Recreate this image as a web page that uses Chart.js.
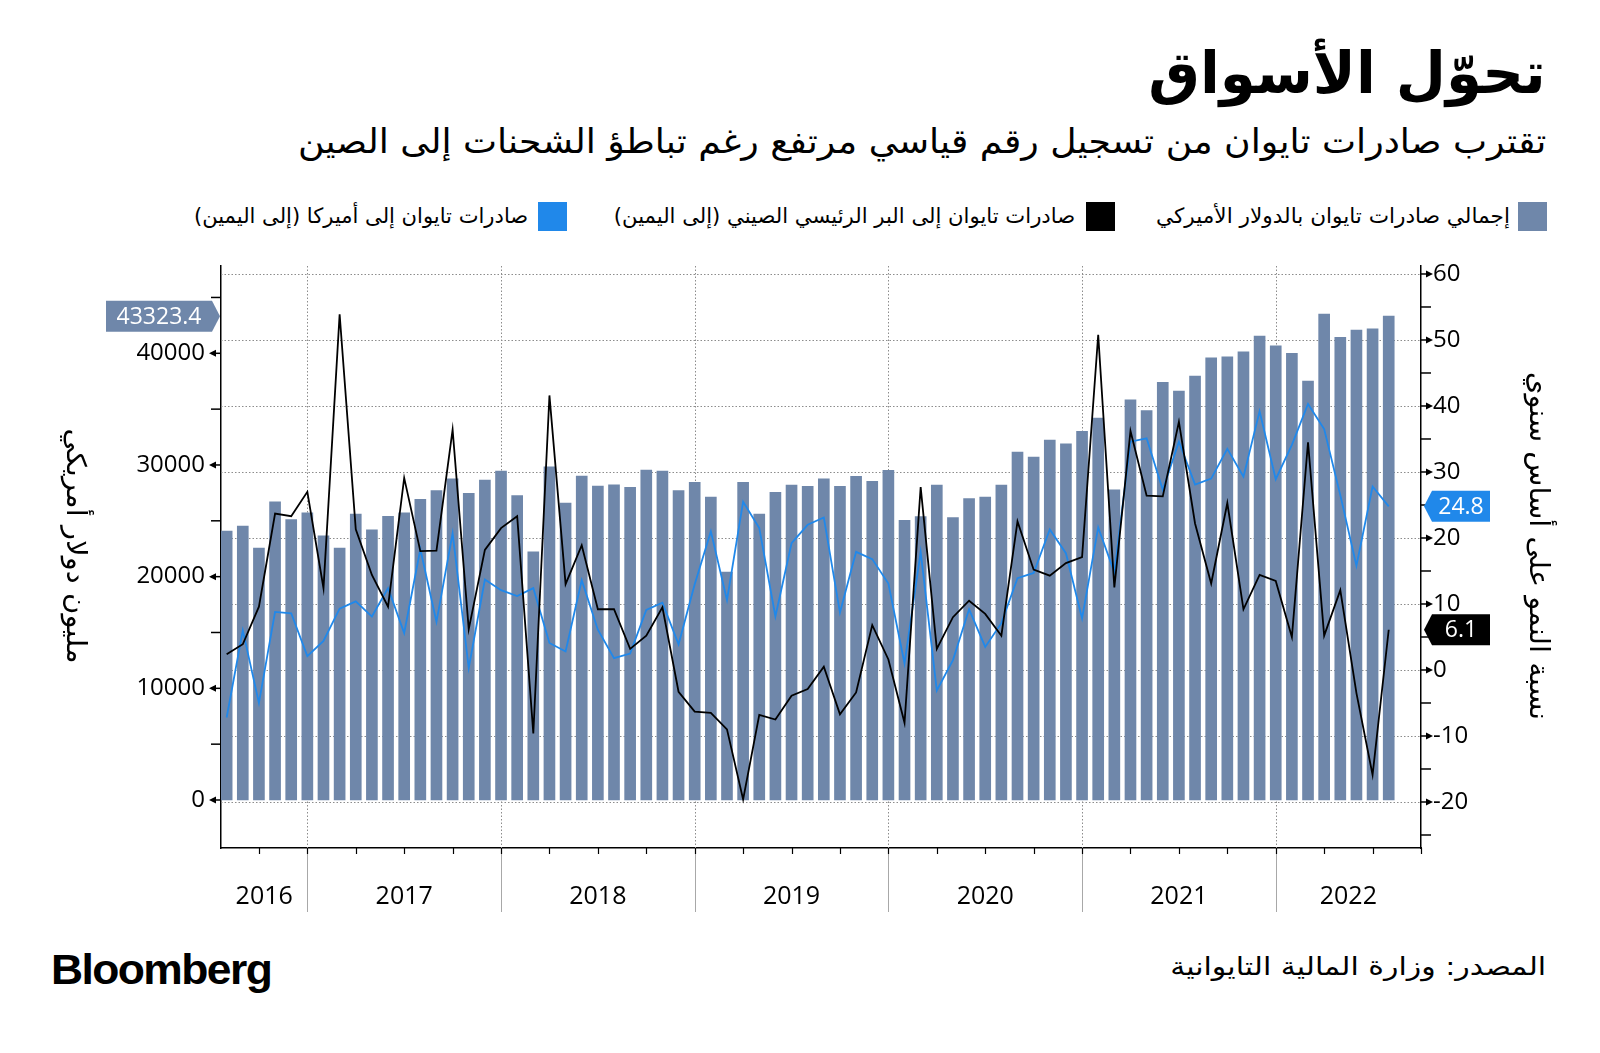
<!DOCTYPE html>
<html lang="ar">
<head>
<meta charset="utf-8">
<script src="https://cdn.jsdelivr.net/npm/chart.js@4.4.0/dist/chart.umd.min.js"></script>
<style>
  body { margin:0; width:1600px; height:1053px; background:#fff; position:relative; overflow:hidden; font-family:"DejaVu Sans", sans-serif; }
  .ar { position:absolute; direction:rtl; white-space:nowrap; color:#000; transform-origin:right center; }
  #title { right:54px; top:38px; height:70px; line-height:70px; font-size:58px; font-weight:bold; }
  #subtitle { right:54px; top:118px; height:46px; line-height:46px; font-size:34px; }
  .leg { top:202px; height:29px; line-height:29px; font-size:21px; }
  .sw { position:absolute; top:202px; width:29px; height:29px; }
  #source { right:54px; top:950px; height:34px; line-height:34px; font-size:25px; }
  #logo { position:absolute; left:51px; top:948px; height:44px; line-height:44px; font-family:"Liberation Sans", Arial, sans-serif; font-weight:bold; font-size:42px; letter-spacing:-1.5px; transform-origin:left center; }
  #wrap { position:absolute; left:0; top:250px; width:1600px; height:680px; }
</style>
</head>
<body>
<div id="title" class="ar" data-w="398">تحوّل الأسواق</div>
<div id="subtitle" class="ar" data-w="1248">تقترب صادرات تايوان من تسجيل رقم قياسي مرتفع رغم تباطؤ الشحنات إلى الصين</div>

<div class="sw" style="left:1518px; background:#6f87aa"></div>
<div class="ar leg" style="right:90px" data-w="354">إجمالي صادرات تايوان بالدولار الأميركي</div>
<div class="sw" style="left:1086px; background:#000"></div>
<div class="ar leg" style="right:525px" data-w="461">صادرات تايوان إلى البر الرئيسي الصيني (إلى اليمين)</div>
<div class="sw" style="left:538px; background:#2088ea"></div>
<div class="ar leg" style="right:1072px" data-w="334">صادرات تايوان إلى أميركا (إلى اليمين)</div>

<div id="wrap"><canvas id="chart" width="1600" height="680"></canvas></div>

<div id="logo" data-w="220">Bloomberg</div>
<div id="source" class="ar" data-w="376">المصدر: وزارة المالية التايوانية</div>

<script>
// monthly, dated at month end
const months = [
  '2016-07','2016-08','2016-09','2016-10','2016-11','2016-12',
  '2017-01','2017-02','2017-03','2017-04','2017-05','2017-06','2017-07','2017-08','2017-09','2017-10','2017-11','2017-12',
  '2018-01','2018-02','2018-03','2018-04','2018-05','2018-06','2018-07','2018-08','2018-09','2018-10','2018-11','2018-12',
  '2019-01','2019-02','2019-03','2019-04','2019-05','2019-06','2019-07','2019-08','2019-09','2019-10','2019-11','2019-12',
  '2020-01','2020-02','2020-03','2020-04','2020-05','2020-06','2020-07','2020-08','2020-09','2020-10','2020-11','2020-12',
  '2021-01','2021-02','2021-03','2021-04','2021-05','2021-06','2021-07','2021-08','2021-09','2021-10','2021-11','2021-12',
  '2022-01','2022-02','2022-03','2022-04','2022-05','2022-06','2022-07'
];

// total exports, million USD (left axis)
const totalExports = [
  24080, 24530, 22560, 26710, 25100, 25720,
  23660, 22560, 25600, 24200, 25400, 25720, 26920, 27700, 28770, 27460, 28650, 29460,
  27250, 22230, 29840, 26590, 29010, 28110, 28230, 27990, 29550, 29460, 27700, 28440,
  27130, 20410, 28440, 25600, 27550, 28200, 28080, 28770, 28080, 28980, 28530, 29520,
  25040, 25370, 28200, 25280, 26990, 27130, 28200, 31160, 30710, 32230, 31900, 33010,
  34200, 27780, 35830, 34860, 37400, 36620, 37960, 39600, 39690, 40140, 41540, 40670,
  39990, 37510, 43510, 41420, 42080, 42200, 43323.4
];

// exports to mainland China, YoY % (right axis)
const chinaGrowth = [
  2.4, 3.9, 9.6, 23.7, 23.3, 27.0,
  12.4, 53.9, 21.3, 14.4, 9.6, 29.1, 18.0, 18.1, 36.4, 6.2, 18.2, 21.5,
  23.3, -9.6, 41.6, 13.0, 18.9, 9.2, 9.2, 3.2, 5.2, 9.5, -3.3, -6.3,
  -6.5, -9.0, -19.6, -6.8, -7.5, -3.9, -2.9, 0.5, -6.7, -3.4, 6.8, 1.6,
  -8.0, 27.7, 3.2, 8.0, 10.5, 8.5, 5.2, 22.5, 15.2, 14.3, 16.2, 17.1,
  50.8, 12.5, 36.2, 26.4, 26.3, 37.6, 22.2, 13.1, 25.3, 9.2, 14.4, 13.5,
  5.0, 34.5, 5.2, 12.1, -3.5, -15.9, 6.1
];

// exports to US, YoY % (right axis)
const usGrowth = [
  -7.2, 6.0, -5.0, 8.8, 8.6, 2.1,
  4.4, 9.3, 10.4, 8.1, 12.4, 5.6, 18.3, 7.3, 20.7, 0.3, 13.7, 12.1,
  11.2, 12.4, 4.1, 2.8, 13.6, 6.1, 1.8, 2.5, 9.1, 10.2, 3.9, 13.0,
  21.0, 10.6, 25.5, 21.5, 8.1, 19.2, 22.0, 23.1, 8.7, 17.9, 16.8, 13.1,
  1.0, 17.9, -3.1, 1.5, 9.2, 3.5, 7.1, 13.9, 14.7, 21.3, 17.7, 7.8,
  21.6, 14.8, 34.6, 35.1, 27.3, 34.6, 28.1, 29.0, 33.5, 29.3, 39.2, 28.9,
  34.1, 40.3, 36.5, 26.5, 15.8, 27.8, 24.8
];

const yearLabels = ['2016', '2017', '2018', '2019', '2020', '2021', '2022'];
const leftTicks = [0, 10000, 20000, 30000, 40000];
const rightTicks = [-20, -10, 0, 10, 20, 30, 40, 50, 60];

const BAR = '#6f87aa', BLUE = '#2088ea', FONT = '"Open Sans", "Noto Sans", sans-serif';

const X_MIN = -0.35, X_MAX = 74;
const yearEnds = months.map((m, i) => m.endsWith('-12') ? i : -1).filter(i => i >= 0);
const bounds = [X_MIN, ...yearEnds, X_MAX];
const yearCenters = yearLabels.map((_, i) => (bounds[i] + bounds[i + 1]) / 2);

function tag(ctx, tipX, y, text, color, side) {
  const h = 31, w = side === 'left' ? 106 : 58, arrow = 8;
  const dir = side === 'left' ? -1 : 1;
  ctx.fillStyle = color;
  ctx.beginPath();
  ctx.moveTo(tipX, y);
  ctx.lineTo(tipX + dir * arrow, y - h / 2);
  ctx.lineTo(tipX + dir * (arrow + w), y - h / 2);
  ctx.lineTo(tipX + dir * (arrow + w), y + h / 2);
  ctx.lineTo(tipX + dir * arrow, y + h / 2);
  ctx.closePath();
  ctx.fill();
  ctx.fillStyle = '#fff';
  ctx.font = '23px ' + FONT;
  ctx.textAlign = 'center';
  ctx.textBaseline = 'middle';
  ctx.fillText(text, tipX + dir * (arrow + w / 2), y + 1);
}

function vtitle(ctx, x, y, text, len) {
  ctx.save();
  ctx.translate(x, y);
  ctx.rotate(Math.PI / 2);
  ctx.font = '27px "DejaVu Sans", sans-serif';
  ctx.direction = 'rtl';
  ctx.textAlign = 'center';
  ctx.textBaseline = 'middle';
  const k = len / ctx.measureText(text).width;
  ctx.scale(k, 1);
  ctx.fillStyle = '#000';
  ctx.fillText(text, 0, 0);
  ctx.restore();
}

const decor = {
  id: 'decor',
  beforeDatasetsDraw(chart) {
    const {ctx, chartArea: a, scales: {x, yR}} = chart;
    ctx.save();
    ctx.lineWidth = 1;
    ctx.strokeStyle = '#8c8c8c';
    ctx.setLineDash([1.5, 2]);
    rightTicks.forEach(v => {
      const y = Math.round(yR.getPixelForValue(v)) + 0.5;
      ctx.beginPath(); ctx.moveTo(a.left, y); ctx.lineTo(a.right, y); ctx.stroke();
    });
    yearEnds.forEach(i => {
      const px = Math.round(x.getPixelForValue(i)) + 0.5;
      ctx.beginPath(); ctx.moveTo(px, a.top); ctx.lineTo(px, a.bottom); ctx.stroke();
    });
    ctx.setLineDash([]);
    ctx.strokeStyle = '#a8a8a8';
    yearEnds.forEach(i => {
      const px = Math.round(x.getPixelForValue(i)) + 0.5;
      ctx.beginPath(); ctx.moveTo(px, a.bottom); ctx.lineTo(px, a.bottom + 64); ctx.stroke();
    });
    ctx.restore();
  },
  afterDraw(chart) {
    const {ctx, chartArea: a, scales: {x, yL, yR}} = chart;
    ctx.save();
    ctx.strokeStyle = '#000';
    ctx.fillStyle = '#000';
    ctx.lineWidth = 1.5;
    // left axis marks
    for (let v = 0; v <= 45000; v += 5000) {
      const y = yL.getPixelForValue(v);
      ctx.beginPath(); ctx.moveTo(a.left - 10, y); ctx.lineTo(a.left, y); ctx.stroke();
      if (v % 10000 === 0) {
        ctx.beginPath(); ctx.moveTo(a.left - 12, y); ctx.lineTo(a.left - 5, y - 3.5); ctx.lineTo(a.left - 5, y + 3.5); ctx.closePath(); ctx.fill();
      }
    }
    // right axis marks
    for (let v = -25; v <= 60; v += 5) {
      const y = yR.getPixelForValue(v);
      ctx.beginPath(); ctx.moveTo(a.right, y); ctx.lineTo(a.right + 10, y); ctx.stroke();
      if (v % 10 === 0) {
        ctx.beginPath(); ctx.moveTo(a.right + 12, y); ctx.lineTo(a.right + 5, y - 3.5); ctx.lineTo(a.right + 5, y + 3.5); ctx.closePath(); ctx.fill();
      }
    }
    // quarter marks under the time axis
    ctx.lineWidth = 1.2;
    for (let i = 2; i <= X_MAX; i += 3) {
      const px = Math.round(x.getPixelForValue(i)) + 0.5;
      ctx.beginPath(); ctx.moveTo(px, a.bottom); ctx.lineTo(px, a.bottom + 6); ctx.stroke();
    }
    ctx.restore();

    const last = months.length - 1;
    tag(ctx, a.left - 1, yL.getPixelForValue(totalExports[last]), String(totalExports[last]), BAR, 'left');
    tag(ctx, a.right + 3, yR.getPixelForValue(usGrowth[last]), usGrowth[last].toFixed(1), BLUE, 'right');
    tag(ctx, a.right + 3, yR.getPixelForValue(chinaGrowth[last]), chinaGrowth[last].toFixed(1), '#000', 'right');

    vtitle(ctx, 74, (a.top + a.bottom) / 2 - 11, 'مليون دولار أمريكي', 235);
    vtitle(ctx, 1537, (a.top + a.bottom) / 2 - 11, 'نسبة النمو على أساس سنوي', 348);
  }
};

const tickFont = { family: FONT, size: 24 };
const noPad = s => { s.paddingTop = 0; s.paddingBottom = 0; s.paddingLeft = 0; s.paddingRight = 0; };

new Chart(document.getElementById('chart'), {
  type: 'bar',
  data: {
    datasets: [
      {
        type: 'line', label: 'china', yAxisID: 'yR', order: 1,
        data: chinaGrowth.map((v, i) => ({ x: i, y: v })),
        borderColor: '#000', borderWidth: 1.8, pointRadius: 0, tension: 0
      },
      {
        type: 'line', label: 'us', yAxisID: 'yR', order: 2,
        data: usGrowth.map((v, i) => ({ x: i, y: v })),
        borderColor: BLUE, borderWidth: 1.8, pointRadius: 0, tension: 0
      },
      {
        type: 'bar', label: 'total', yAxisID: 'yL', order: 3,
        data: totalExports.map((v, i) => ({ x: i, y: v })),
        backgroundColor: BAR, barThickness: 11
      }
    ]
  },
  options: {
    responsive: false,
    animation: false,
    layout: { padding: { top: 16, left: 0, right: 0, bottom: 0 } },
    plugins: { legend: { display: false }, tooltip: { enabled: false } },
    scales: {
      x: {
        type: 'linear', position: 'bottom', min: X_MIN, max: X_MAX, offset: false,
        grid: { display: false, drawTicks: false, offset: false },
        border: { display: true, color: '#000', width: 1.5 },
        afterFit(s) { s.height = 82; noPad(s); },
        afterBuildTicks(s) { s.ticks = yearCenters.map(v => ({ value: v })); },
        ticks: {
          autoSkip: false, maxRotation: 0, padding: 34, color: '#000', font: { family: FONT, size: 25 },
          callback: (v, i) => yearLabels[i]
        }
      },
      yL: {
        type: 'linear', position: 'left', min: -4298, max: 47817,
        grid: { display: false, drawTicks: false },
        border: { display: true, color: '#000', width: 1.5 },
        afterFit(s) { s.width = 221; noPad(s); },
        afterBuildTicks(s) { s.ticks = leftTicks.map(v => ({ value: v })); },
        ticks: { padding: 16, color: '#000', font: tickFont, callback: v => String(v) }
      },
      yR: {
        type: 'linear', position: 'right', min: -26.97, max: 61.21,
        grid: { display: false, drawTicks: false },
        border: { display: true, color: '#000', width: 1.5 },
        afterFit(s) { s.width = 179; noPad(s); },
        afterBuildTicks(s) { s.ticks = rightTicks.map(v => ({ value: v })); },
        ticks: { padding: 12, color: '#000', font: tickFont, callback: v => String(v) }
      }
    }
  },
  plugins: [decor]
});

// squeeze the text blocks to the widths of the original condensed face
document.querySelectorAll('[data-w]').forEach(el => {
  const k = Number(el.dataset.w) / el.offsetWidth;
  el.style.transform = 'scaleX(' + k.toFixed(3) + ')';
});
</script>
</body>
</html>
